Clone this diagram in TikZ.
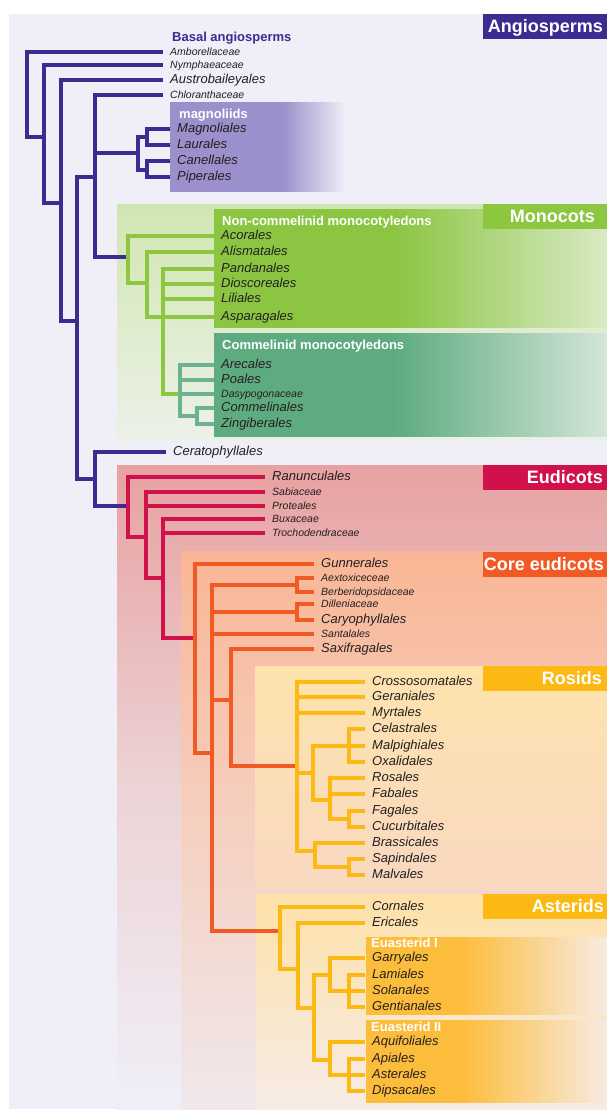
\documentclass[tikz,border=0pt]{standalone}
\usepackage{fontspec}
\setmainfont{Liberation Sans}
\usepackage{xcolor}
\usepackage{tikz}
\definecolor{PanelBg}{HTML}{F0EFF8}
\definecolor{TaxText}{HTML}{231F20}
\definecolor{AngBlue}{HTML}{3D2B92}
\definecolor{MagPurple}{HTML}{9B90CB}
\definecolor{MonoBgTop}{HTML}{D0E6B1}
\definecolor{MonoBgBot}{HTML}{ECF1E8}
\definecolor{MonoGreen}{HTML}{8DC63F}
\definecolor{NonComGreen}{HTML}{8CC542}
\definecolor{NonComFade}{HTML}{D8EAC4}
\definecolor{ComTeal}{HTML}{5FAB80}
\definecolor{ComLine}{HTML}{6CB28E}
\definecolor{ComFade}{HTML}{D3E6D8}
\definecolor{EudRed}{HTML}{D0114B}
\definecolor{EudBgTop}{HTML}{E8A1A1}
\definecolor{EudBgMid}{HTML}{ECD3D5}
\definecolor{CoreOrange}{HTML}{F15A24}
\definecolor{CoreBgTop}{HTML}{F9B695}
\definecolor{CoreBgMid}{HTML}{F5D0C1}
\definecolor{CoreBgBot}{HTML}{F0E8EC}
\definecolor{RosYellow}{HTML}{FDB913}
\definecolor{RosBgTop}{HTML}{FEE3AD}
\definecolor{RosBgBot}{HTML}{F9D8C1}
\definecolor{AstBgTop}{HTML}{FEE1A8}
\definecolor{AstBgBot}{HTML}{F6ECE6}
\definecolor{EuaYellow}{HTML}{FDBD3C}
\definecolor{EuaFade}{HTML}{F6EBE2}

% solid on the left, fading out on the right (25bp..75bp = box)
\pgfdeclarehorizontalshading{magfade}{100bp}{color(0bp)=(MagPurple); color(25bp)=(MagPurple);
    color(57bp)=(MagPurple); color(75bp)=(PanelBg); color(100bp)=(PanelBg)}
\pgfdeclarehorizontalshading{noncomfade}{100bp}{color(0bp)=(NonComGreen); color(25bp)=(NonComGreen);
    color(48bp)=(NonComGreen); color(75bp)=(NonComFade); color(100bp)=(NonComFade)}
\pgfdeclarehorizontalshading{comfade}{100bp}{color(0bp)=(ComTeal); color(25bp)=(ComTeal);
    color(48bp)=(ComTeal); color(75bp)=(ComFade); color(100bp)=(ComFade)}
\pgfdeclarehorizontalshading{euafade}{100bp}{color(0bp)=(EuaYellow); color(25bp)=(EuaYellow);
    color(45bp)=(EuaYellow); color(75bp)=(EuaFade); color(100bp)=(EuaFade)}

\begin{document}
\begin{tikzpicture}[
    x=1pt, y=-1pt,
    leaf/.style={
        anchor=west, inner xsep=7pt, inner ysep=0pt, text=TaxText,
        text height=9pt, text depth=3pt,
        font=\itshape\fontsize{13}{14}\selectfont
    },
    sleaf/.style={leaf, font=\itshape\fontsize{10.5}{12}\selectfont},
    grptitle/.style={
        anchor=west, inner sep=0pt, text=white,
        text height=10pt, text depth=2pt,
        font=\bfseries\fontsize{13}{14}\selectfont
    },
    cladetag/.style={
        anchor=north east, fill=#1, inner sep=0pt,
        minimum width=124pt, minimum height=25pt
    },
    tagtext/.style={
        anchor=east, text=white, inner sep=0pt,
        text height=14pt, text depth=2pt,
        font=\bfseries\fontsize{18}{20}\selectfont
    },
    bbr/.style={draw=AngBlue, line width=3.2pt},
    gbr/.style={draw=MonoGreen, line width=3.2pt},
    tbr/.style={draw=ComLine, line width=3.2pt},
    rbr/.style={draw=EudRed, line width=3.2pt},
    obr/.style={draw=CoreOrange, line width=3.2pt},
    ybr/.style={draw=RosYellow, line width=3.2pt}
]

% panels
\useasboundingbox (0,0) rectangle (607,1111);
\fill[white] (0,0) rectangle (607,1111);
\fill[PanelBg] (9,14) rectangle (607,1109);

\shade[shading=magfade] (170,102) rectangle (346,191);

\shade[top color=MonoBgTop, bottom color=MonoBgBot] (117,204) rectangle (607,440);
\shade[shading=noncomfade] (214,209) rectangle (607,327);
\shade[shading=comfade] (214,333) rectangle (607,436);

\shade[top color=EudBgTop, bottom color=PanelBg, middle color=EudBgMid] (117,465) rectangle (607,1109);
\shade[top color=CoreBgTop, bottom color=CoreBgBot, middle color=CoreBgMid] (181,551) rectangle (607,1109);
\shade[top color=RosBgTop, bottom color=RosBgBot] (255,666) rectangle (607,890);
\shade[top color=AstBgTop, bottom color=AstBgBot] (256,894) rectangle (607,1109);
\shade[shading=euafade] (366,937) rectangle (607,1014);
\shade[shading=euafade] (366,1020) rectangle (607,1102);

% clade tags
\node[cladetag=AngBlue]    (tang)  at (607,14)  {};
\node[cladetag=MonoGreen]  (tmono) at (607,204) {};
\node[cladetag=EudRed]     (teud)  at (607,465) {};
\node[cladetag=CoreOrange] (tcore) at (607,552) {};
\node[cladetag=RosYellow]  (tros)  at (607,666) {};
\node[cladetag=RosYellow]  (tast)  at (607,894) {};
\node[tagtext] (lang)  at ([xshift=-4pt]tang.east)   {Angiosperms};
\node[tagtext] (lmono) at ([xshift=-12pt]tmono.east) {Monocots};
\node[tagtext] (leud)  at ([xshift=-4pt]teud.east)   {Eudicots};
\node[tagtext] (lcore) at ([xshift=-3pt]tcore.east)  {Core eudicots};
\node[tagtext] (lros)  at ([xshift=-5pt]tros.east)   {Rosids};
\node[tagtext] (last)  at ([xshift=-3pt]tast.east)   {Asterids};

% group titles
\node[grptitle, text=AngBlue] (hbasal) at (172,37)  {Basal angiosperms};
\node[grptitle] (hmag)  at (179,114)  {magnoliids};
\node[grptitle] (hnon)  at (222,221)  {Non-commelinid monocotyledons};
\node[grptitle] (hcom)  at (222,345)  {Commelinid monocotyledons};
\node[grptitle] (heua1) at (371,943)  {Euasterid I};
\node[grptitle] (heua2) at (371,1027) {Euasterid II};

% leaves
\node[sleaf] (amb)  at (163,52)  {Amborellaceae};
\node[sleaf] (nym)  at (163,65)  {Nymphaeaceae};
\node[leaf]  (aus)  at (163,80)  {Austrobaileyales};
\node[sleaf] (chl)  at (163,95)  {Chloranthaceae};
\node[leaf]  (magn) at (170,129) {Magnoliales};
\node[leaf]  (laur) at (170,145) {Laurales};
\node[leaf]  (cane) at (170,161) {Canellales};
\node[leaf]  (pipe) at (170,177) {Piperales};

\node[leaf]  (acor) at (214,236) {Acorales};
\node[leaf]  (alis) at (214,252) {Alismatales};
\node[leaf]  (pand) at (214,269) {Pandanales};
\node[leaf]  (disc) at (214,284) {Dioscoreales};
\node[leaf]  (lili) at (214,299) {Liliales};
\node[leaf]  (aspa) at (214,317) {Asparagales};
\node[leaf]  (arec) at (214,365) {Arecales};
\node[leaf]  (poal) at (214,380) {Poales};
\node[sleaf] (dasy) at (214,394) {Dasypogonaceae};
\node[leaf]  (comm) at (214,408) {Commelinales};
\node[leaf]  (zing) at (214,424) {Zingiberales};

\node[leaf]  (cera) at (166,452) {Ceratophyllales};

\node[leaf]  (ranu) at (265,477) {Ranunculales};
\node[sleaf] (sabi) at (265,492) {Sabiaceae};
\node[sleaf] (prot) at (265,506) {Proteales};
\node[sleaf] (buxa) at (265,519) {Buxaceae};
\node[sleaf] (troc) at (265,533) {Trochodendraceae};

\node[leaf]  (gunn) at (314,564) {Gunnerales};
\node[sleaf] (aext) at (314,578) {Aextoxiceceae};
\node[sleaf] (berb) at (314,592) {Berberidopsidaceae};
\node[sleaf] (dill) at (314,604) {Dilleniaceae};
\node[leaf]  (cary) at (314,620) {Caryophyllales};
\node[sleaf] (sant) at (314,634) {Santalales};
\node[leaf]  (saxi) at (314,649) {Saxifragales};

\node[leaf]  (cros) at (365,682) {Crossosomatales};
\node[leaf]  (gera) at (365,697) {Geraniales};
\node[leaf]  (myrt) at (365,713) {Myrtales};
\node[leaf]  (cela) at (365,729) {Celastrales};
\node[leaf]  (malp) at (365,746) {Malpighiales};
\node[leaf]  (oxal) at (365,762) {Oxalidales};
\node[leaf]  (rosa) at (365,778) {Rosales};
\node[leaf]  (faba) at (365,794) {Fabales};
\node[leaf]  (faga) at (365,811) {Fagales};
\node[leaf]  (cucu) at (365,827) {Cucurbitales};
\node[leaf]  (bras) at (365,843) {Brassicales};
\node[leaf]  (sapi) at (365,859) {Sapindales};
\node[leaf]  (malv) at (365,875) {Malvales};

\node[leaf]  (corn) at (365,907)  {Cornales};
\node[leaf]  (eric) at (365,923)  {Ericales};
\node[leaf]  (garr) at (365,958)  {Garryales};
\node[leaf]  (lami) at (365,975)  {Lamiales};
\node[leaf]  (sola) at (365,991)  {Solanales};
\node[leaf]  (gent) at (365,1007) {Gentianales};
\node[leaf]  (aqui) at (365,1042) {Aquifoliales};
\node[leaf]  (apia) at (365,1059) {Apiales};
\node[leaf]  (aste) at (365,1075) {Asterales};
\node[leaf]  (dips) at (365,1091) {Dipsacales};

% internal nodes
\coordinate (root)  at (27,95);
\coordinate (nnym)  at (44,137);
\coordinate (naus)  at (61,203);
\coordinate (nmes)  at (77,321);
\coordinate (nupp)  at (95,177);
\coordinate (nlow)  at (95,479);
\coordinate (nmag)  at (138,153);
\coordinate (nmag1) at (147,137);
\coordinate (nmag2) at (147,170);
\coordinate (nmono) at (128,257);
\coordinate (nmono2) at (147,283);
\coordinate (nmono3) at (163,318);
\coordinate (ncom)  at (180,394);
\coordinate (ncom2) at (197,416);
\coordinate (neud)  at (128,506);
\coordinate (neud2) at (146,537);
\coordinate (neud3) at (163,578);
\coordinate (ncore) at (195,638);
\coordinate (ncore2) at (212,753);
\coordinate (naex)  at (297,585);
\coordinate (ndil)  at (297,612);
\coordinate (nsax)  at (231,700);
\coordinate (nros)  at (297,766);
\coordinate (nros2) at (313,773);
\coordinate (ncel)  at (349,746);
\coordinate (nrosa) at (330,800);
\coordinate (nfag)  at (349,819);
\coordinate (nbra)  at (315,851);
\coordinate (nsap)  at (349,867);
\coordinate (nast)  at (280,931);
\coordinate (nast2) at (298,969);
\coordinate (nast3) at (314,1008);
\coordinate (neua1) at (330,975);
\coordinate (nlam)  at (349,991);
\coordinate (neua2) at (330,1060);
\coordinate (napi)  at (349,1075);

% basal angiosperms and magnoliids
\draw[bbr] (root) |- (amb.west);
\draw[bbr] (root) |- (nnym);
\draw[bbr] (nnym) |- (nym.west);
\draw[bbr] (nnym) |- (naus);
\draw[bbr] (naus) |- (aus.west);
\draw[bbr] (naus) |- (nmes);
\draw[bbr] (nmes) |- (nupp);
\draw[bbr] (nmes) |- (nlow);
\draw[bbr] (nupp) |- (chl.west);
\draw[bbr] (nupp) |- (nmag);
\draw[bbr] (nupp) |- (nmono);
\draw[bbr] (nmag) |- (nmag1);
\draw[bbr] (nmag) |- (nmag2);
\draw[bbr] (nmag1) |- (magn.west);
\draw[bbr] (nmag1) |- (laur.west);
\draw[bbr] (nmag2) |- (cane.west);
\draw[bbr] (nmag2) |- (pipe.west);
\draw[bbr] (nlow) |- (cera.west);
\draw[bbr] (nlow) |- (neud);

% monocots
\draw[gbr] (nmono) |- (acor.west);
\draw[gbr] (nmono) |- (nmono2);
\draw[gbr] (nmono2) |- (alis.west);
\draw[gbr] (nmono2) |- (aspa.west);
\draw[gbr] (nmono3) |- (pand.west);
\draw[gbr] (nmono3) |- (disc.west);
\draw[gbr] (nmono3) |- (lili.west);
\draw[gbr] (nmono3) |- (ncom);
\draw[tbr] (ncom) |- (arec.west);
\draw[tbr] (ncom) |- (poal.west);
\draw[tbr] (ncom) |- (dasy.west);
\draw[tbr] (ncom) |- (ncom2);
\draw[tbr] (ncom2) |- (comm.west);
\draw[tbr] (ncom2) |- (zing.west);

% eudicots
\draw[rbr] (neud) |- (ranu.west);
\draw[rbr] (neud) |- (neud2);
\draw[rbr] (neud2) |- (sabi.west);
\draw[rbr] (neud2) |- (prot.west);
\draw[rbr] (neud2) |- (neud3);
\draw[rbr] (neud3) |- (buxa.west);
\draw[rbr] (neud3) |- (troc.west);
\draw[rbr] (neud3) |- (ncore);

% core eudicots
\draw[obr] (ncore) |- (gunn.west);
\draw[obr] (ncore) |- (ncore2);
\draw[obr] (ncore2) |- (naex);
\draw[obr] (ncore2) |- (ndil);
\draw[obr] (ncore2) |- (sant.west);
\draw[obr] (ncore2) |- (nsax);
\draw[obr] (ncore2) |- (nast);
\draw[obr] (naex) |- (aext.west);
\draw[obr] (naex) |- (berb.west);
\draw[obr] (ndil) |- (dill.west);
\draw[obr] (ndil) |- (cary.west);
\draw[obr] (nsax) |- (saxi.west);
\draw[obr] (nsax) |- (nros);

% rosids
\draw[ybr] (nros) |- (cros.west);
\draw[ybr] (nros) |- (gera.west);
\draw[ybr] (nros) |- (myrt.west);
\draw[ybr] (nros) |- (nros2);
\draw[ybr] (nros) |- (nbra);
\draw[ybr] (nros2) |- (ncel);
\draw[ybr] (nros2) |- (nrosa);
\draw[ybr] (ncel) |- (cela.west);
\draw[ybr] (ncel) |- (malp.west);
\draw[ybr] (ncel) |- (oxal.west);
\draw[ybr] (nrosa) |- (rosa.west);
\draw[ybr] (nrosa) |- (faba.west);
\draw[ybr] (nrosa) |- (nfag);
\draw[ybr] (nfag) |- (faga.west);
\draw[ybr] (nfag) |- (cucu.west);
\draw[ybr] (nbra) |- (bras.west);
\draw[ybr] (nbra) |- (nsap);
\draw[ybr] (nsap) |- (sapi.west);
\draw[ybr] (nsap) |- (malv.west);

% asterids
\draw[ybr] (nast) |- (corn.west);
\draw[ybr] (nast) |- (nast2);
\draw[ybr] (nast2) |- (eric.west);
\draw[ybr] (nast2) |- (nast3);
\draw[ybr] (nast3) |- (neua1);
\draw[ybr] (nast3) |- (neua2);
\draw[ybr] (neua1) |- (garr.west);
\draw[ybr] (neua1) |- (nlam);
\draw[ybr] (nlam) |- (lami.west);
\draw[ybr] (nlam) |- (sola.west);
\draw[ybr] (nlam) |- (gent.west);
\draw[ybr] (neua2) |- (aqui.west);
\draw[ybr] (neua2) |- (napi);
\draw[ybr] (napi) |- (apia.west);
\draw[ybr] (napi) |- (aste.west);
\draw[ybr] (napi) |- (dips.west);

\end{tikzpicture}
\end{document}
